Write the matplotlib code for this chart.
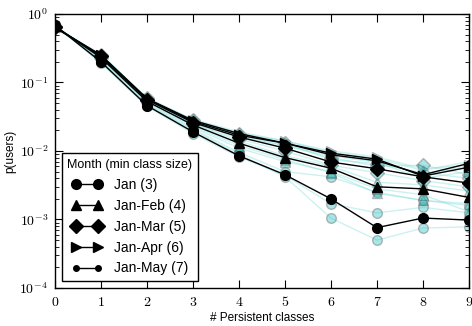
import matplotlib
matplotlib.use('Agg')
import matplotlib.pyplot as plt
from matplotlib.ticker import FuncFormatter, LogLocator
import numpy as np

plt.rcParams['mathtext.fontset'] = 'cm'
plt.rcParams['mathtext.default'] = 'rm'
plt.rcParams['font.family'] = ['Liberation Sans', 'DejaVu Sans']

n_classes = list(range(10))

labels = ['Jan (3)', 'Jan-Feb (4)', 'Jan-Mar (5)', 'Jan-Apr (6)', 'Jan-May (7)']
markers = ['o', '^', 'D', '>', '.']

# black lines: pooled months
jan = [0.68, 0.20, 0.046, 0.019, 0.0085, 0.0045, 0.0020, 0.00076, 0.00105, 0.00098]
jan_feb = [0.66, 0.23, 0.053, 0.024, 0.013, 0.0080, 0.0056, 0.0030, 0.0028, 0.0021]
jan_mar = [0.65, 0.24, 0.056, 0.026, 0.016, 0.011, 0.0069, 0.0055, 0.0042, 0.0034]
jan_apr = [0.64, 0.25, 0.058, 0.027, 0.017, 0.013, 0.0093, 0.0076, 0.0043, 0.0058]
jan_may = [0.63, 0.25, 0.058, 0.028, 0.018, 0.013, 0.0088, 0.0072, 0.0045, 0.0066]

# faint cyan lines: individual runs behind each series
jan_runs = [
    [0.70, 0.19, 0.045, 0.018, 0.0082, 0.0044, 0.0017, 0.00125, 0.0015, 0.00125],
    [0.69, 0.21, 0.047, 0.020, 0.0090, 0.0042, 0.00105, 0.0005, 0.00075, 0.00078],
    [0.67, 0.20, 0.048, 0.021, 0.0095, 0.0050, 0.0042, 0.0025, 0.0019, 0.0016],
]
jan_feb_runs = [
    [0.67, 0.22, 0.052, 0.023, 0.012, 0.0075, 0.0048, 0.0024, 0.0019, 0.0017],
    [0.66, 0.23, 0.055, 0.025, 0.014, 0.0085, 0.0060, 0.0035, 0.0032, 0.0026],
    [0.65, 0.22, 0.050, 0.022, 0.011, 0.0070, 0.0050, 0.0028, 0.0023, 0.0013],
]
jan_mar_runs = [
    [0.65, 0.24, 0.057, 0.027, 0.017, 0.012, 0.0080, 0.0060, 0.0062, 0.0045],
    [0.64, 0.23, 0.054, 0.025, 0.015, 0.010, 0.0062, 0.0048, 0.0037, 0.0030],
    [0.66, 0.25, 0.059, 0.028, 0.018, 0.013, 0.0075, 0.0065, 0.0048, 0.0040],
]
jan_apr_runs = [
    [0.64, 0.25, 0.060, 0.028, 0.018, 0.014, 0.010, 0.0082, 0.0055, 0.0062],
    [0.63, 0.24, 0.057, 0.026, 0.016, 0.012, 0.0085, 0.0068, 0.0040, 0.0050],
]
jan_may_runs = [
    [0.63, 0.26, 0.059, 0.029, 0.019, 0.014, 0.0095, 0.0078, 0.0052, 0.0070],
    [0.62, 0.25, 0.058, 0.028, 0.017, 0.013, 0.0090, 0.0070, 0.0046, 0.0060],
]

series = [jan, jan_feb, jan_mar, jan_apr, jan_may]
runs = [jan_runs, jan_feb_runs, jan_mar_runs, jan_apr_runs, jan_may_runs]

fig = plt.figure(figsize=(4.72, 3.26), dpi=100)
ax = fig.add_axes([0.1165, 0.1166, 0.877, 0.8405])

for mk, rr in zip(markers, runs):
    ms = 4 if mk == '.' else 7
    for r in rr:
        ax.plot(n_classes, r, color='#80dcdc', lw=1.0, alpha=0.4,
                marker=mk, ms=ms, mfc='#30c0c0', mec='0.35', mew=1.0,
                zorder=1)

for y, mk, lab in zip(series, markers, labels):
    ms = 7 if mk != '.' else 8
    ax.plot(n_classes, y, color='black', lw=1.0, marker=mk, ms=ms,
            mfc='black', mec='black', label=lab, zorder=3)

ax.set_yscale('log')
ax.set_ylim(1e-4, 1)
ax.set_xlim(0, 9)
ax.yaxis.set_major_locator(LogLocator(base=10, numticks=10))
ax.yaxis.set_major_formatter(FuncFormatter(lambda v, p: '$10^{%d}$' % round(np.log10(v))))
ax.set_xticks(n_classes)
ax.set_xticklabels(['$%d$' % i for i in n_classes])
ax.tick_params(which='both', direction='in', top=True, right=True,
               labelsize=10)
ax.tick_params(which='major', length=6, width=0.8, pad=5)
ax.tick_params(which='minor', length=3, width=0.6)
for s in ax.spines.values():
    s.set_linewidth(1.0)

ax.set_xlabel('# Persistent classes', fontsize=8.5, labelpad=2)
ax.set_ylabel('p(users)', fontsize=8.5, labelpad=2)

leg = ax.legend(loc='lower left', title='Month (min class size)',
                fontsize=10, title_fontsize=9, numpoints=2,
                fancybox=False, framealpha=1, edgecolor='black',
                handlelength=2.2, borderaxespad=0.5, labelspacing=0.5,
                handletextpad=0.8, borderpad=0.4)
leg.get_frame().set_linewidth(1.0)

fig.savefig('out.png', dpi=100)
